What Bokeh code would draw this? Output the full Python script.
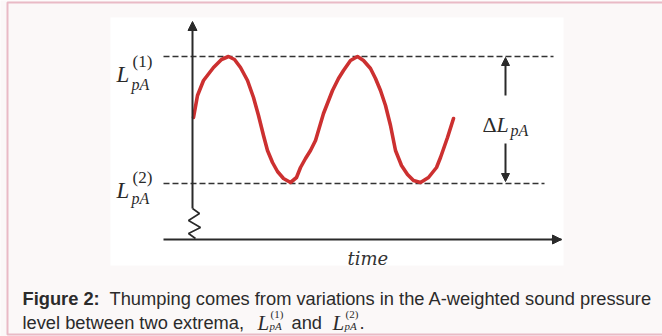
from bokeh.plotting import figure
from bokeh.models import Range1d, BoxAnnotation, Arrow, NormalHead
from bokeh.core.properties import value
from bokeh.embed import file_html
from bokeh.resources import INLINE

# Sound pressure level over time (arbitrary units; level 0 = lower extremum)
time = [1, 5, 11, 21, 29, 36, 42, 48, 55, 61, 66, 71, 75, 80, 85, 91, 98,
        104, 108, 113, 118, 123, 131, 140, 146, 151, 158, 165, 171, 178, 183,
        188, 193, 198, 203, 209, 215, 221, 228, 236, 244, 248, 255, 261]
level = [66, 88, 103, 116, 124, 127, 124, 116, 103, 86, 68, 48, 33, 21, 12, 5, 1,
         6, 16, 25, 33, 43, 70, 93, 105, 113, 123, 127, 123, 115, 105,
         93, 78, 58, 33, 18, 9, 3, 1, 6, 16, 26, 46, 65]

# The two extrema
L_MAX = 127
L_MIN = 0
max_line_t = [-29, 361]
min_line_t = [-29, 352]

# Axes (the level axis is broken by a squiggle near the time axis)
TIME_AXIS_LEVEL = -56
time_axis_t = [-29, 369]
level_axis_levels = [-25, 162]
squiggle_t = [0, 7, -4, 8, -4, 3]
squiggle_level = [-25, -30, -37, -44, -50, -55]

# Delta marker
DELTA_T = 313

SERIF = value("Liberation Serif")
SANS = value("Liberation Sans")
INK = "#2a2a2a"
CAP_SIZE = "18.3px"

p = figure(width=662, height=336, output_backend="svg", toolbar_location=None,
           x_range=Range1d(-192, 470), y_range=Range1d(-153, 183),
           x_axis_location=None, y_axis_location=None, min_border=0,
           background_fill_color="#fbf8f8", border_fill_color="#fbf8f8",
           outline_line_color=None)
p.grid.visible = False

# white panel and crimson frame, kept beneath the drawing
p.add_layout(BoxAnnotation(left=-82, right=371, top=166, bottom=-82, level="underlay",
                           fill_color="white", fill_alpha=1, line_color=None))
p.add_layout(BoxAnnotation(left=-185, right=520, top=181, bottom=-151, level="underlay",
                           fill_alpha=0, line_color="#c02a52", line_width=2))

# dashed extrema lines
p.segment(x0=[max_line_t[0], min_line_t[0]], y0=[L_MAX, L_MIN],
          x1=[max_line_t[1], min_line_t[1]], y1=[L_MAX, L_MIN],
          line_color="#333333", line_width=1.6, line_dash="6 3")

# axes
p.line(time_axis_t, [TIME_AXIS_LEVEL, TIME_AXIS_LEVEL], line_color=INK, line_width=2.2)
p.add_layout(Arrow(end=NormalHead(size=9, fill_color=INK, line_color=INK),
                   x_start=time_axis_t[1] - 10, y_start=TIME_AXIS_LEVEL,
                   x_end=time_axis_t[1], y_end=TIME_AXIS_LEVEL,
                   line_color=INK, line_width=2.2))
p.add_layout(Arrow(end=NormalHead(size=9, fill_color=INK, line_color=INK),
                   x_start=0, y_start=level_axis_levels[0],
                   x_end=0, y_end=level_axis_levels[1],
                   line_color=INK, line_width=2))
p.line(squiggle_t, squiggle_level, line_color=INK, line_width=1.6)

# level curve
p.line(time, level, line_color="#cc3030", line_width=3.6,
       line_join="round", line_cap="round")

# delta arrows
p.add_layout(Arrow(end=NormalHead(size=8, fill_color=INK, line_color=INK),
                   x_start=DELTA_T, y_start=88, x_end=DELTA_T, y_end=L_MAX - 1,
                   line_color=INK, line_width=2))
p.add_layout(Arrow(end=NormalHead(size=8, fill_color=INK, line_color=INK),
                   x_start=DELTA_T, y_start=40, x_end=DELTA_T, y_end=L_MIN + 2,
                   line_color=INK, line_width=2))

def math_label(x, y, sup, sub_drop):
    p.text(x=[x], y=[y], text=["L"], text_font=SERIF, text_font_style="italic",
           text_font_size="23px", text_color=INK, text_baseline="alphabetic")
    p.text(x=[x + 16], y=[y + 13], text=[sup], text_font=SERIF,
           text_font_size="17px", text_color=INK, text_baseline="alphabetic")
    p.text(x=[x + 15], y=[y - sub_drop], text=["pA"], text_font=SERIF,
           text_font_style="italic", text_font_size="16px", text_color=INK,
           text_baseline="alphabetic")

math_label(-76, 109, "(1)", 10)
math_label(-76, -7, "(2)", 8)

p.text(x=[290], y=[59], text=["Δ"], text_font=SERIF, text_font_size="22px",
       text_color=INK, text_baseline="alphabetic")
p.text(x=[304], y=[59], text=["L"], text_font=SERIF, text_font_style="italic",
       text_font_size="22px", text_color=INK, text_baseline="alphabetic")
p.text(x=[318], y=[53], text=["pA"], text_font=SERIF, text_font_style="italic",
       text_font_size="16px", text_color=INK, text_baseline="alphabetic")

p.text(x=[155], y=[-75], text=["time"], text_font=value("DejaVu Serif"),
       text_font_style="italic", text_font_size="18px", text_color="#333333",
       text_baseline="alphabetic")

# caption
CAP = "#2b2b2b"
p.text(x=[-170], y=[-115], text=["Figure 2:"], text_font=SANS, text_font_style="bold",
       text_font_size=CAP_SIZE, text_color=CAP, text_baseline="alphabetic")
p.text(x=[-83], y=[-115],
       text=["Thumping comes from variations in the A-weighted sound pressure"],
       text_font=SANS, text_font_size=CAP_SIZE, text_color=CAP, text_baseline="alphabetic")
p.text(x=[-170], y=[-139], text=["level between two extrema,"], text_font=SANS,
       text_font_size=CAP_SIZE, text_color=CAP, text_baseline="alphabetic")

def small_math(x, y, sup):
    p.text(x=[x], y=[y], text=["L"], text_font=SERIF, text_font_style="italic",
           text_font_size="21px", text_color=CAP, text_baseline="alphabetic")
    p.text(x=[x + 13], y=[y + 9], text=[sup], text_font=SERIF,
           text_font_size="11px", text_color=CAP, text_baseline="alphabetic")
    p.text(x=[x + 12], y=[y - 3], text=["pA"], text_font=SERIF,
           text_font_style="italic", text_font_size="11px", text_color=CAP,
           text_baseline="alphabetic")

small_math(65, -139, "(1)")
p.text(x=[99], y=[-139], text=["and"], text_font=SANS, text_font_size=CAP_SIZE,
       text_color=CAP, text_baseline="alphabetic")
small_math(140, -139, "(2)")
p.text(x=[167], y=[-139], text=["."], text_font=SANS, text_font_size=CAP_SIZE,
       text_color=CAP, text_baseline="alphabetic")

open("out.html", "w").write(file_html(p, INLINE))
